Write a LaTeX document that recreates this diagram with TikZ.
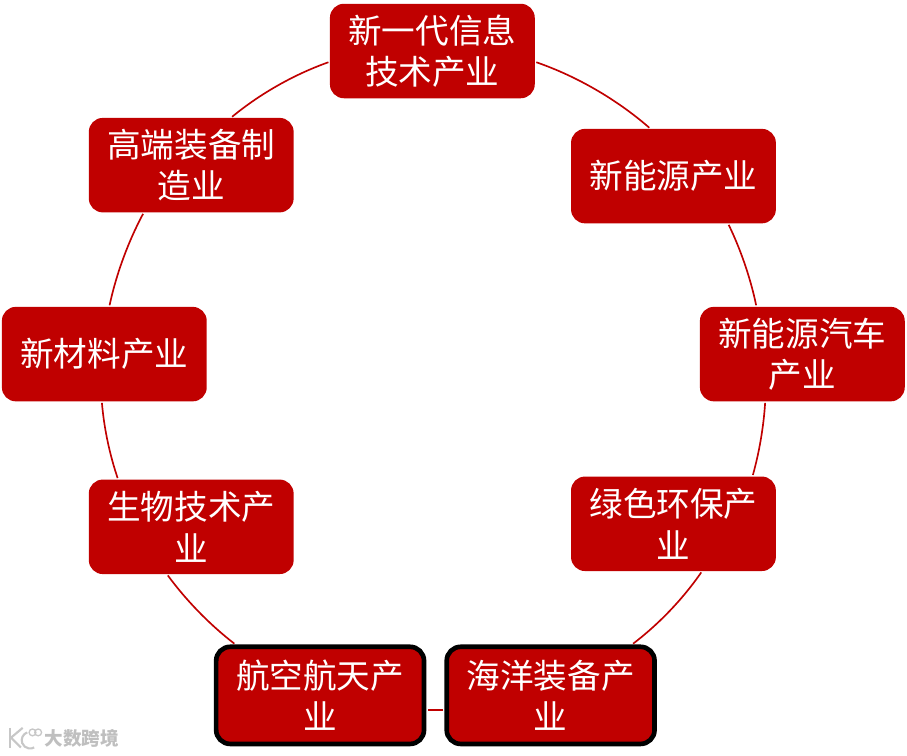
\documentclass[tikz,border=0pt]{standalone}
\usepackage{fontspec}
\setmainfont{Noto Sans CJK SC}
\definecolor{deepred}{HTML}{C00000}
\begin{document}
\begin{tikzpicture}[
                box/.style={
                    fill=deepred,
                    rectangle,
                    rounded corners=0.37cm,
                    minimum width=5.42cm,
                    minimum height=2.5cm,
                    inner sep=0pt,
                    align=center,
                    text=white,
                    font=\fontsize{25.3}{31}\selectfont
                },
                highlightbox/.style={
                    box,
                    draw=black,
                    line width=3.5pt,
                    minimum width=5.5cm,
                    minimum height=2.57cm
                },
                ring/.style={
                    draw=deepred,
                    line width=1.25pt,
                    looseness=0.85,
                    shorten <=1pt,
                    shorten >=1pt
                },
                mark line/.style={
                    draw=black!22,
                    line width=1.6pt
                }
            ]
                \useasboundingbox (0,0) rectangle (24,20);

                \node[box] (info) at (11.44,18.65) {新一代信息\\技术产业};
                \node[box] (energy) at (17.82,15.34) {新能源产业};
                \node[box] (auto) at (21.23,10.63) {新能源汽车\\产业};
                \node[box] (green) at (17.82,6.14) {绿色环保产\\业};
                \node[highlightbox] (ocean) at (14.57,1.60) {海洋装备产\\业};
                \node[highlightbox] (aero) at (8.47,1.60) {航空航天产\\业};
                \node[box] (bio) at (5.06,6.06) {生物技术产\\业};
                \node[box] (material) at (2.76,10.63) {新材料产业};
                \node[box] (equip) at (5.06,15.63) {高端装备制\\造业};

                \draw[ring] (info.-6) to[bend left=11] (energy.116);
                \draw[ring] (energy.-41.3) to[bend left=7] (auto.134);
                \draw[ring] (auto.232) to[bend left=6] (green.31);
                \draw[ring] (green.-59) to[bend left=9] (ocean.32);
                \draw[ring] (ocean.188) -- (aero.-8);
                \draw[ring] (aero.149) to[bend left=8] (bio.243);
                \draw[ring] (bio.147.6) to[bend left=7] (material.267.6);
                \draw[ring] (material.84) to[bend left=8] (equip.225);
                \draw[ring] (equip.50.3) to[bend left=10] (info.186);

                % watermark
                \node[text=black!25, font=\fontsize{14}{15}\selectfont\bfseries] (mark) at (2.16,0.45) {大数跨境};
                \draw[mark line] (0.27,0.74) -- (0.27,0.22);
                \draw[mark line] (0.60,0.74) -- (0.29,0.48) -- (0.55,0.22);
                \draw[mark line] (0.72,0.62) arc (110:300:0.22);
                \draw[mark line, line width=1pt] (0.86,0.62) circle (0.09);
                \draw[mark line, line width=1pt] (1.01,0.62) circle (0.09);
\end{tikzpicture}
\end{document}
